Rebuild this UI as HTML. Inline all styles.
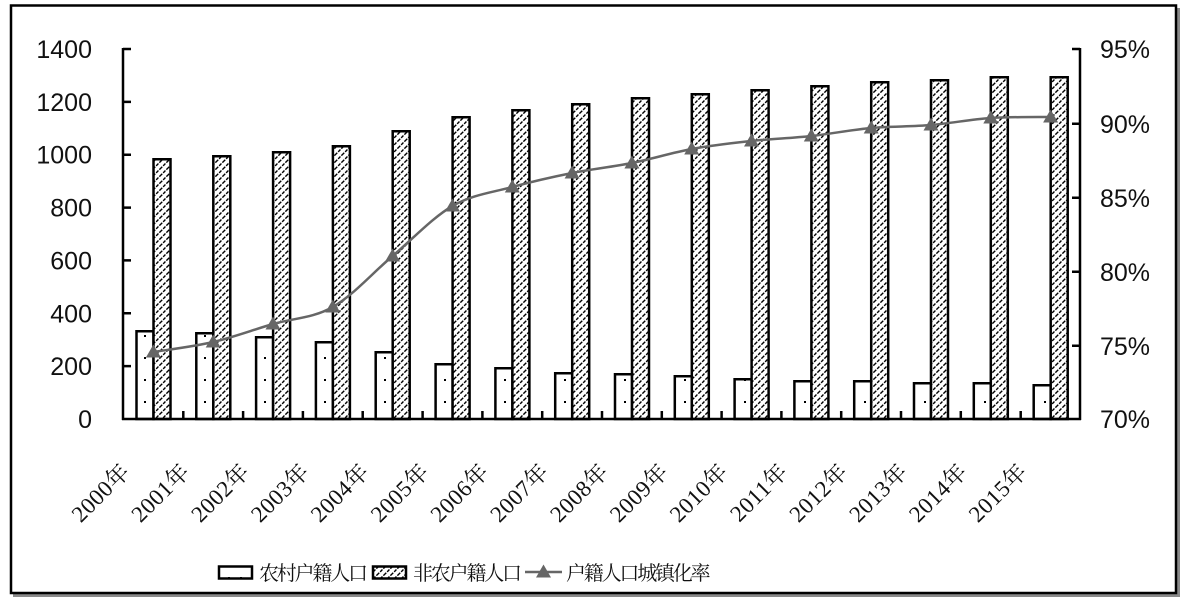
<!DOCTYPE html>
<html><head><meta charset="utf-8"><style>
html,body{margin:0;padding:0;background:#fff;}
svg{display:block;}
.yl{font-family:"Liberation Sans",Arial,sans-serif;font-size:25px;fill:#111;}
.xl{font-family:"Liberation Serif","Noto Serif CJK SC",serif;font-size:23px;fill:#111;letter-spacing:0.5px;}
.lg{font-family:"Liberation Serif","Noto Serif CJK SC",serif;font-size:20px;fill:#111;letter-spacing:-2.2px;}
</style></head><body>
<svg width="1183" height="602" viewBox="0 0 1183 602" xmlns="http://www.w3.org/2000/svg">
<defs>
<pattern id="hatch" patternUnits="userSpaceOnUse" width="7" height="7">
<rect width="7" height="7" fill="#fff"/>
<path d="M-1,8 L8,-1 M-4,4 L4,-4 M3,11 L11,3" stroke="#000" stroke-width="1.4" stroke-dasharray="3.2,1.3"/>
</pattern>
<pattern id="dots" patternUnits="userSpaceOnUse" width="12" height="22">
<rect width="12" height="22" fill="#fff"/>
<rect x="0" y="5" width="2" height="2" fill="#000"/>
</pattern>
<path id="tri" d="M-7.5,5.5 L7.5,5.5 L0,-7.5 Z" fill="#666"/>
</defs>
<rect width="1183" height="602" fill="#fff"/>
<!-- frame shadow -->
<rect x="13" y="593" width="1167" height="4" fill="#8a8a8a"/>
<rect x="1176" y="8" width="4" height="589" fill="#8a8a8a"/>
<rect x="11" y="5.5" width="1165" height="587.5" fill="#fff" stroke="#000" stroke-width="2.5"/>

<!-- rural bars -->
<g fill="url(#dots)" stroke="#000" stroke-width="2.5">
<rect x="136.5" y="331.25" width="17" height="87.75"/>
<rect x="196.3" y="333.25" width="17" height="85.75"/>
<rect x="256.1" y="337.25" width="17" height="81.75"/>
<rect x="315.9" y="342.25" width="17" height="76.75"/>
<rect x="375.7" y="352.25" width="17" height="66.75"/>
<rect x="435.6" y="364.25" width="17" height="54.75"/>
<rect x="495.4" y="368.25" width="17" height="50.75"/>
<rect x="555.2" y="373.25" width="17" height="45.75"/>
<rect x="615" y="374.25" width="17" height="44.75"/>
<rect x="674.8" y="376.25" width="17" height="42.75"/>
<rect x="734.6" y="379.25" width="17" height="39.75"/>
<rect x="794.4" y="381.25" width="17" height="37.75"/>
<rect x="854.2" y="381.25" width="17" height="37.75"/>
<rect x="914" y="383.25" width="17" height="35.75"/>
<rect x="973.8" y="383.25" width="17" height="35.75"/>
<rect x="1033.7" y="385.25" width="17" height="33.75"/>
</g>
<!-- non-agricultural bars -->
<g fill="url(#hatch)" stroke="#000" stroke-width="2.5">
<rect x="153.5" y="159.25" width="17" height="259.75"/>
<rect x="213.3" y="156.25" width="17" height="262.75"/>
<rect x="273.1" y="152.25" width="17" height="266.75"/>
<rect x="332.9" y="146.25" width="17" height="272.75"/>
<rect x="392.7" y="131.25" width="17" height="287.75"/>
<rect x="452.6" y="117.25" width="17" height="301.75"/>
<rect x="512.4" y="110.25" width="17" height="308.75"/>
<rect x="572.2" y="104.25" width="17" height="314.75"/>
<rect x="632" y="98.25" width="17" height="320.75"/>
<rect x="691.8" y="94.25" width="17" height="324.75"/>
<rect x="751.6" y="90.25" width="17" height="328.75"/>
<rect x="811.4" y="86.25" width="17" height="332.75"/>
<rect x="871.2" y="82.25" width="17" height="336.75"/>
<rect x="931" y="80.25" width="17" height="338.75"/>
<rect x="990.8" y="77.25" width="17" height="341.75"/>
<rect x="1050.7" y="77.25" width="17" height="341.75"/>
</g>

<!-- axes -->
<g stroke="#000" stroke-width="2.5" fill="none">
<line x1="123" y1="48" x2="123" y2="420"/>
<line x1="1080" y1="48" x2="1080" y2="420"/>
<line x1="122" y1="419" x2="1081" y2="419"/>
<path d="M123,49H131 M123,101.9H131 M123,154.7H131 M123,207.6H131 M123,260.4H131 M123,313.3H131 M123,366.1H131"/>
<path d="M1072,49H1080 M1072,123.8H1080 M1072,197.8H1080 M1072,271.8H1080 M1072,345.8H1080"/>
<path d="M183.3,411V419 M243.1,411V419 M302.9,411V419 M362.7,411V419 M422.6,411V419 M482.4,411V419 M542.2,411V419 M602,411V419 M661.8,411V419 M721.6,411V419 M781.4,411V419 M841.2,411V419 M901,411V419 M960.8,411V419 M1020.7,411V419"/>
</g>

<!-- line series -->
<path d="M153.4,352 C163.4,350.3 193.3,346.7 213.2,342 C233.1,337.3 253.1,329.8 273,324 C292.9,318.2 312.9,318.3 332.8,307 C352.7,295.7 372.7,272.8 392.6,256 C412.5,239.2 432.6,217.5 452.5,206 C472.4,194.5 492.4,192.5 512.3,187 C532.2,181.5 552.2,177 572.1,173 C592,169 612,167 631.9,163 C651.8,159 671.8,152.7 691.7,149 C711.6,145.3 731.6,143.2 751.5,141 C771.4,138.8 791.4,138.2 811.3,136 C831.2,133.8 851.3,129.8 871.2,128 C891.1,126.2 911.1,126.7 931,125 C950.9,123.3 970.9,119.3 990.8,118 C1010.7,116.7 1040.6,117.2 1050.6,117" fill="none" stroke="#666" stroke-width="2.5"/>
<g>
<use href="#tri" x="153.4" y="352"/>
<use href="#tri" x="213.2" y="342"/>
<use href="#tri" x="273" y="324"/>
<use href="#tri" x="332.8" y="307"/>
<use href="#tri" x="392.6" y="256"/>
<use href="#tri" x="452.5" y="206"/>
<use href="#tri" x="512.3" y="187"/>
<use href="#tri" x="572.1" y="173"/>
<use href="#tri" x="631.9" y="163"/>
<use href="#tri" x="691.7" y="149"/>
<use href="#tri" x="751.5" y="141"/>
<use href="#tri" x="811.3" y="136"/>
<use href="#tri" x="871.2" y="128"/>
<use href="#tri" x="931" y="125"/>
<use href="#tri" x="990.8" y="118"/>
<use href="#tri" x="1050.6" y="117"/>
</g>

<!-- left labels -->
<g class="yl" text-anchor="end">
<text x="92" y="58">1400</text>
<text x="92" y="110.9">1200</text>
<text x="92" y="163.7">1000</text>
<text x="92" y="216.6">800</text>
<text x="92" y="269.4">600</text>
<text x="92" y="322.3">400</text>
<text x="92" y="375.1">200</text>
<text x="92" y="428">0</text>
</g>
<!-- right labels -->
<g class="yl">
<text x="1100" y="58">95%</text>
<text x="1100" y="132.8">90%</text>
<text x="1100" y="206.8">85%</text>
<text x="1100" y="280.8">80%</text>
<text x="1100" y="354.8">75%</text>
<text x="1100" y="428">70%</text>
</g>

<!-- x labels -->
<g class="xl" text-anchor="end">
<text transform="translate(131.4,473) rotate(-45)">2000年</text>
<text transform="translate(191.2,473) rotate(-45)">2001年</text>
<text transform="translate(251,473) rotate(-45)">2002年</text>
<text transform="translate(310.8,473) rotate(-45)">2003年</text>
<text transform="translate(370.6,473) rotate(-45)">2004年</text>
<text transform="translate(430.5,473) rotate(-45)">2005年</text>
<text transform="translate(490.3,473) rotate(-45)">2006年</text>
<text transform="translate(550.1,473) rotate(-45)">2007年</text>
<text transform="translate(609.9,473) rotate(-45)">2008年</text>
<text transform="translate(669.7,473) rotate(-45)">2009年</text>
<text transform="translate(729.5,473) rotate(-45)">2010年</text>
<text transform="translate(789.3,473) rotate(-45)">2011年</text>
<text transform="translate(849.2,473) rotate(-45)">2012年</text>
<text transform="translate(909,473) rotate(-45)">2013年</text>
<text transform="translate(968.8,473) rotate(-45)">2014年</text>
<text transform="translate(1028.6,473) rotate(-45)">2015年</text>
</g>

<!-- legend -->
<rect x="219" y="566.5" width="33" height="12" fill="url(#dots)" stroke="#000" stroke-width="2.5"/>
<text class="lg" x="259" y="580">农村户籍人口</text>
<rect x="373" y="566.5" width="33" height="12" fill="url(#hatch)" stroke="#000" stroke-width="2.5"/>
<text class="lg" x="413" y="580">非农户籍人口</text>
<line x1="525" y1="572" x2="562" y2="572" stroke="#666" stroke-width="2.5"/>
<use href="#tri" x="543.5" y="572"/>
<text class="lg" x="566" y="580">户籍人口城镇化率</text>
</svg>
</body></html>
